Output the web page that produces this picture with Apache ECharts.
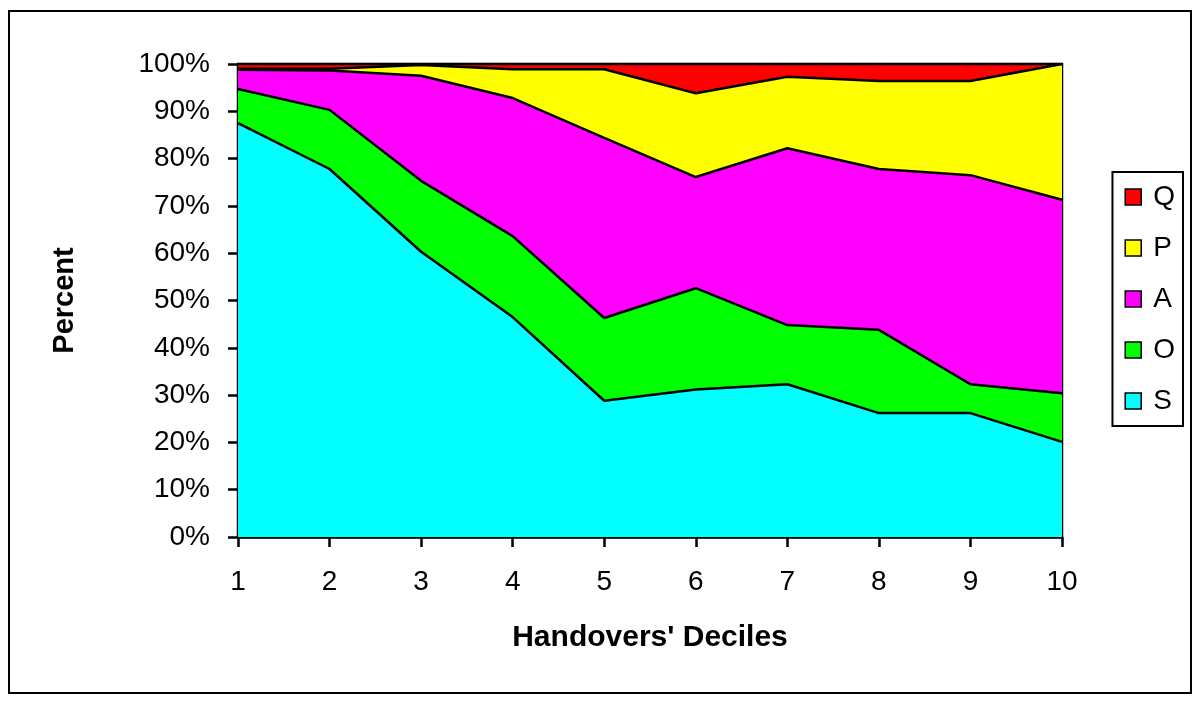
<!DOCTYPE html>
<html>
<head>
<meta charset="utf-8">
<script src="https://cdn.jsdelivr.net/npm/echarts@6/dist/echarts.min.js"></script>
<style>
html,body{margin:0;padding:0;background:#fff;}
#chart{width:1200px;height:705px;}
</style>
</head>
<body>
<div id="chart"></div>
<script>
const categories = ['1','2','3','4','5','6','7','8','9','10'];
const seriesNames = ['S','O','A','P','Q'];
const colors = {S:'#00FFFF', O:'#00FF00', A:'#FF00FF', P:'#FFFF00', Q:'#FF0000'};
const valuesS = [87.5, 77.8, 60.3, 46.5, 28.8, 31.2, 32.3, 26.2, 26.2, 20.1];
const valuesO = [7.2, 12.5, 15.0, 17.1, 17.5, 21.4, 12.5, 17.6, 6.1, 10.3];
const valuesA = [4.1, 8.3, 22.2, 29.2, 38.1, 23.5, 37.4, 34.0, 44.2, 40.9];
const valuesP = [0.2, 0.4, 2.3, 6.1, 14.5, 17.7, 15.1, 18.6, 19.9, 28.7];
const valuesQ = [1.0, 1.0, 0.2, 1.1, 1.1, 6.2, 2.7, 3.6, 3.6, 0.0];
const legendOrder = ['Q','P','A','O','S'];
const yTickLabels = ['0%','10%','20%','30%','40%','50%','60%','70%','80%','90%','100%'];

const dataMap = {S:valuesS, O:valuesO, A:valuesA, P:valuesP, Q:valuesQ};

const chart = echarts.init(document.getElementById('chart'), null, {renderer:'canvas'});
const font = 'Arial, "Liberation Sans", sans-serif';
chart.setOption({
  animation:false,
  backgroundColor:'#fff',
  graphic:[{
    type:'rect', left:8, top:10, z:-10,
    shape:{width:1182, height:682},
    style:{fill:'#fff', stroke:'#000', lineWidth:2}
  }],
  grid:{left:238, top:64, width:824, height:473, show:true, borderColor:'#000', borderWidth:2.5, backgroundColor:'transparent'},
  legend:{
    orient:'vertical', right:17, top:172,
    data:legendOrder,
    icon:'rect', itemWidth:16, itemHeight:16, itemGap:23,
    padding:[11,8,11,12],
    borderColor:'#000', borderWidth:2, backgroundColor:'#fff',
    itemStyle:{borderColor:'#000', borderWidth:1.5},
    textStyle:{fontFamily:font, fontSize:28, color:'#000', padding:[0,0,0,7]}
  },
  xAxis:{
    type:'category', data:categories, boundaryGap:false,
    name:"Handovers' Deciles", nameLocation:'middle', nameGap:86,
    nameTextStyle:{fontFamily:font, fontSize:30, fontWeight:'bold', color:'#000'},
    axisLine:{lineStyle:{color:'#000', width:2.5}},
    axisTick:{show:true, length:10, lineStyle:{color:'#000', width:2.5}},
    axisLabel:{fontFamily:font, fontSize:28, color:'#000', margin:31},
    splitLine:{show:false}
  },
  yAxis:{
    type:'value', min:0, max:100, interval:10,
    name:'Percent', nameLocation:'middle', nameGap:159, nameRotate:90,
    nameTextStyle:{fontFamily:font, fontSize:29, fontWeight:'bold', color:'#000'},
    axisLine:{show:true, lineStyle:{color:'#000', width:2.5}},
    axisTick:{show:true, length:10, lineStyle:{color:'#000', width:2.5}},
    axisLabel:{fontFamily:font, fontSize:28, color:'#000', margin:28,
      formatter:function(v){return yTickLabels[Math.round(v/10)];}},
    splitLine:{show:false}
  },
  series: seriesNames.map(function(n){
    return {
      name:n, type:'line', stack:'total', data:dataMap[n],
      symbol:'none', smooth:false,
      lineStyle:{color:'#000', width:2.5},
      itemStyle:{color:colors[n], borderColor:'#000', borderWidth:1.5},
      areaStyle:{color:colors[n], opacity:1}
    };
  })
});
</script>
</body>
</html>
